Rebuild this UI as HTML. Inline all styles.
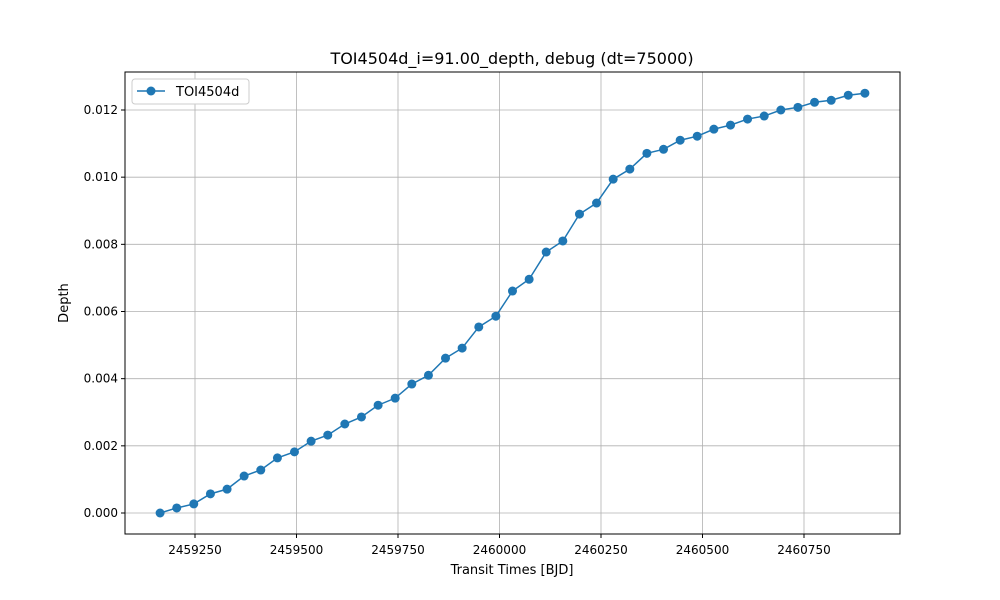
<!DOCTYPE html>
<html><head><meta charset="utf-8">
<style>body{margin:0;background:#fff}svg{display:block;font-family:"DejaVu Sans","Liberation Sans",sans-serif}</style>
</head><body>
<svg id="chart" width="1000" height="600">
<text x="512" y="64" text-anchor="middle" font-size="16">TOI4504d_i=91.00_depth, debug (dt=75000)</text>
<g id="grid"></g>
<g id="ticks" font-size="12"></g>
<rect x="125" y="72" width="775" height="462" fill="none" stroke="#000" stroke-width="1"/>
<g id="series"></g>
<text x="512" y="574" text-anchor="middle" font-size="13">Transit Times [BJD]</text>
<text x="68" y="303" text-anchor="middle" font-size="13" transform="rotate(-90 68 303)">Depth</text>
<g>
<rect x="132" y="79" width="117" height="25" fill="#fff" stroke="#ccc" rx="3"/>
<line x1="137" y1="91" x2="165" y2="91" stroke="#1f77b4" stroke-width="1.5"/>
<circle cx="151" cy="91" r="4.5" fill="#1f77b4"/>
<text x="176" y="96" font-size="13">TOI4504d</text>
</g>
</svg>
<script>
const times=[2459164,2459205,2459247,2459288,2459329,2459371,2459412,2459453,2459495,2459536,2459577,2459619,2459660,2459701,2459743,2459784,2459825,2459867,2459908,2459949,2459991,2460032,2460073,2460115,2460156,2460197,2460239,2460280,2460321,2460363,2460404,2460445,2460487,2460528,2460569,2460611,2460652,2460693,2460735,2460776,2460817,2460859,2460900];
const depths=[0,0.00015,0.00027,0.00057,0.00071,0.0011,0.00128,0.00164,0.00182,0.00214,0.00232,0.00265,0.00286,0.00321,0.00342,0.00384,0.0041,0.00461,0.00491,0.00554,0.00586,0.00661,0.00696,0.00777,0.0081,0.0089,0.00923,0.00994,0.01024,0.01071,0.01083,0.0111,0.01122,0.01143,0.01155,0.01173,0.01182,0.012,0.01208,0.01223,0.01229,0.01244,0.0125];
const xTicks=[2459250,2459500,2459750,2460000,2460250,2460500,2460750];
const yTicks=[0,0.002,0.004,0.006,0.008,0.010,0.012];
const NS="http://www.w3.org/2000/svg";
function X(v){return 195+(v-2459250)*101.5/250;}
function Y(v){return 513-v*403/0.012;}
function mk(t,a,p){const e=document.createElementNS(NS,t);for(const k in a)e.setAttribute(k,a[k]);p.appendChild(e);return e;}
const grid=document.getElementById('grid'),ticks=document.getElementById('ticks'),ser=document.getElementById('series');
xTicks.forEach(v=>{const x=X(v);
const g=mk('line',{x1:x,x2:x,y1:72,y2:534,stroke:'#b0b0b0','stroke-width':0.8},grid);


mk('line',{x1:x,x2:x,y1:534,y2:538,stroke:'#000'},ticks);
const t=mk('text',{x:x,y:554,'text-anchor':'middle'},ticks);t.textContent=v;

});
yTicks.forEach(v=>{const y=Y(v);
const g=mk('line',{x1:125,x2:900,y1:y,y2:y,stroke:'#b0b0b0','stroke-width':0.8},grid);


mk('line',{x1:121,x2:125,y1:y,y2:y,stroke:'#000'},ticks);
const t=mk('text',{x:118,y:y+4,'text-anchor':'end'},ticks);t.textContent=v.toFixed(3);

});
const pl=mk('polyline',{points:times.map((t,i)=>X(t)+','+Y(depths[i])).join(' '),fill:'none',stroke:'#1f77b4','stroke-width':1.5},ser);


times.forEach((t,i)=>{const c=mk('circle',{cx:X(t),cy:Y(depths[i]),r:4.5,fill:'#1f77b4'},ser);

});
</script>
</body></html>
